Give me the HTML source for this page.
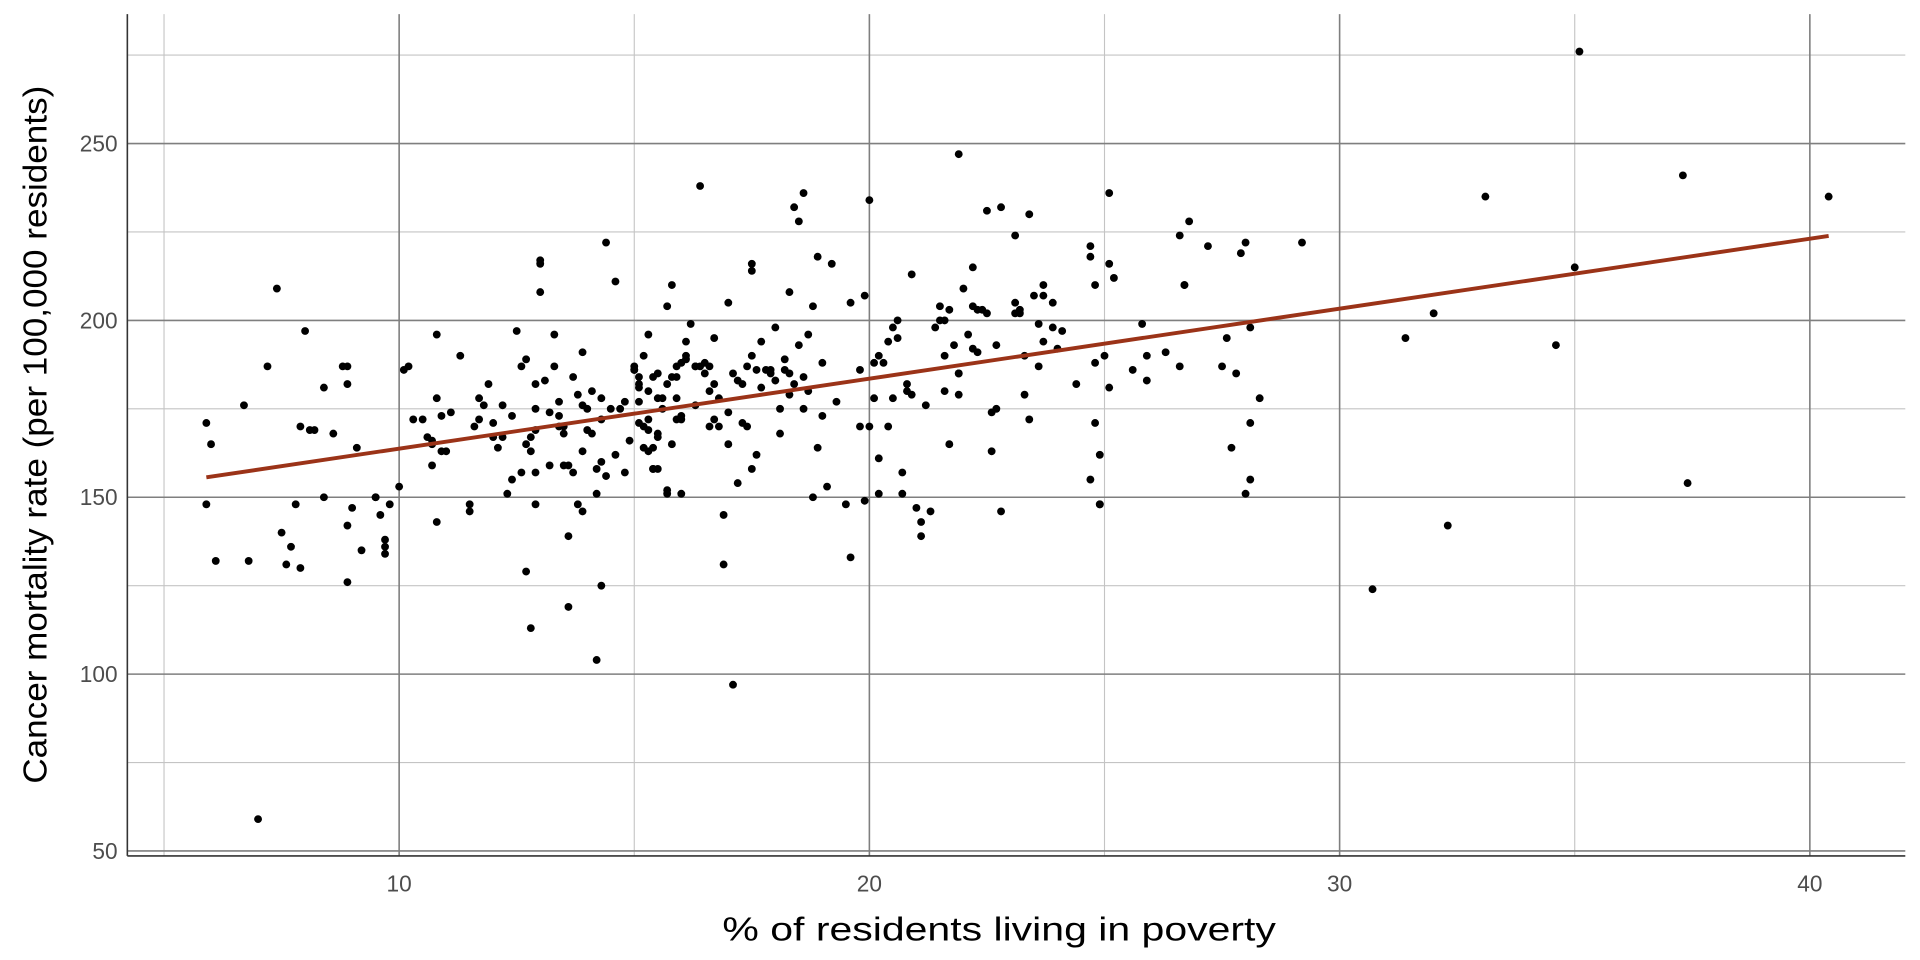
<!DOCTYPE html>
<html><head><meta charset="utf-8"><style>
html,body{margin:0;padding:0;background:#fff;}
svg{display:block;}
text{font-family:"Liberation Sans",sans-serif;}
</style></head><body>
<svg id="chart" width="1920" height="960" viewBox="0 0 1568 784" xmlns="http://www.w3.org/2000/svg">
<g id="grid"></g>
<g id="axes"></g>
<g id="points"></g>
<g id="fit"></g>
<text x="816" y="768" text-anchor="middle" font-size="27" textLength="452" lengthAdjust="spacingAndGlyphs" fill="#000">% of residents living in poverty</text>
<text transform="translate(38,355) rotate(-90)" text-anchor="middle" font-size="27" textLength="570" lengthAdjust="spacingAndGlyphs" fill="#000">Cancer mortality rate (per 100,000 residents)</text>
</svg>
<script>
const xTicks=[10,20,30,40];
const xMinor=[5,15,25,35];
const yTicks=[50,100,150,200,250];
const yMinor=[75,125,175,225,275];
const povertyPct=[5.9,6.0,5.9,6.1,6.8,6.7,7.0,7.4,7.2,7.5,7.6,7.7,7.8,7.9,7.9,8.0,8.1,8.2,8.4,8.4,8.6,8.8,8.9,8.9,9.0,8.9,8.9,9.1,9.2,9.5,9.5,9.6,9.7,9.7,9.7,9.8,10.0,10.1,10.2,10.3,10.5,10.6,10.7,10.7,10.7,10.8,10.8,10.8,10.9,10.9,11.0,11.1,11.3,11.5,11.5,11.6,11.7,11.7,11.8,11.9,12.0,12.0,12.1,12.2,12.2,12.3,12.4,12.4,12.5,12.6,12.7,12.6,12.7,12.7,12.8,12.8,12.8,12.9,12.9,12.9,12.9,12.9,13.0,13.0,13.0,13.1,13.2,13.2,13.3,13.3,13.4,13.4,13.4,13.5,13.5,13.5,13.6,13.6,13.6,13.7,13.7,13.8,13.8,13.9,13.9,13.9,13.9,14.0,14.0,14.1,14.1,14.2,14.2,14.2,14.3,14.3,14.3,14.3,14.4,14.4,14.5,14.6,14.6,14.7,14.8,14.8,14.9,15.0,15.0,15.0,15.1,15.1,15.1,15.1,15.1,15.2,15.2,15.2,15.3,15.3,15.3,15.3,15.3,15.4,15.4,15.4,15.4,15.5,15.5,15.5,15.5,15.5,15.6,15.6,15.7,15.7,15.7,15.7,15.8,15.8,15.8,15.9,15.9,15.9,15.9,16.0,16.0,16.0,16.0,16.1,16.1,16.1,16.2,16.3,16.3,16.3,16.4,16.4,16.5,16.5,16.6,16.6,16.6,16.7,16.7,16.7,16.8,16.8,16.9,16.9,17.0,17.0,17.0,17.1,17.1,17.2,17.2,17.3,17.3,17.4,17.4,17.5,17.5,17.5,17.5,17.6,17.6,17.7,17.7,17.8,17.9,17.9,18.0,18.0,18.1,18.1,18.2,18.2,18.3,18.3,18.3,18.4,18.4,18.5,18.5,18.6,18.6,18.6,18.7,18.7,18.8,18.8,18.9,18.9,19.0,19.0,19.1,19.2,19.3,19.5,19.6,19.6,19.8,19.8,19.9,19.9,20.0,20.0,20.1,20.1,20.2,20.2,20.2,20.3,20.4,20.4,20.5,20.5,20.6,20.6,20.7,20.7,20.8,20.8,20.9,20.9,21.0,21.1,21.1,21.2,21.3,21.4,21.5,21.5,21.6,21.6,21.6,21.7,21.7,21.8,21.9,21.9,21.9,21.9,22.0,22.1,22.2,22.2,22.2,22.3,22.3,22.4,22.5,22.5,22.6,22.6,22.7,22.7,22.8,22.8,23.1,23.1,23.1,23.2,23.2,23.3,23.3,23.4,23.4,23.5,23.6,23.6,23.7,23.7,23.7,23.9,23.9,24.0,24.1,24.4,24.7,24.7,24.7,24.8,24.8,24.8,24.9,24.9,24.9,25.0,25.1,25.1,25.1,25.2,25.6,25.8,25.9,25.9,26.3,26.6,26.6,26.7,26.7,26.8,27.2,27.5,27.6,27.7,27.8,27.9,28.0,28.0,28.1,28.1,28.1,28.3,29.2,30.7,31.4,32.0,32.3,33.1,34.6,35.0,35.1,37.3,37.4,40.4];
const mortality=[171,165,148,132,132,176,59,209,187,140,131,136,148,130,170,197,169,169,150,181,168,187,182,187,147,142,126,164,135,150,150,145,138,136,134,148,153,186,187,172,172,167,166,165,159,196,178,143,163,173,163,174,190,146,148,170,172,178,176,182,171,167,164,176,167,151,155,173,197,157,189,187,165,129,113,167,163,169,175,157,182,148,216,217,208,183,159,174,196,187,177,173,170,168,159,170,139,119,159,157,184,179,148,146,176,163,191,175,169,168,180,151,158,104,178,125,172,160,156,222,175,162,211,175,177,157,166,187,186,186,184,181,182,177,171,190,170,164,163,172,196,180,169,164,158,158,184,168,158,167,178,185,178,175,151,152,182,204,165,184,210,187,178,172,184,172,188,151,173,189,190,194,199,187,187,176,187,238,188,185,187,180,170,182,172,195,170,178,131,145,205,174,165,97,185,154,183,171,182,170,187,190,216,158,214,162,186,194,181,186,185,186,198,183,168,175,189,186,208,179,185,182,232,193,228,236,175,184,180,196,204,150,164,218,173,188,153,216,177,148,133,205,186,170,149,207,170,234,188,178,151,161,190,188,194,170,178,198,195,200,151,157,182,180,179,213,147,143,139,176,146,198,204,200,180,200,190,203,165,193,185,185,247,179,209,196,215,192,204,203,191,203,231,202,174,163,193,175,146,232,205,202,224,202,203,190,179,172,230,207,187,199,194,207,210,205,198,192,197,182,155,221,218,188,210,171,162,148,148,190,181,216,236,212,186,199,183,190,191,187,224,210,210,228,221,187,195,164,185,219,151,222,155,198,171,178,222,124,195,202,142,235,193,215,276,241,154,235,221];

const NS='http://www.w3.org/2000/svg';
const L=104,R=1556,T=11.5,B=699;
const X0=4.22,X1=42.03,Y0=48.6,Y1=286.6;
function sx(v){return L+(v-X0)/(X1-X0)*(R-L);}
function sy(v){return B-(v-Y0)/(Y1-Y0)*(B-T);}
function mk(tag,attrs,parent){const e=document.createElementNS(NS,tag);for(const k in attrs)e.setAttribute(k,attrs[k]);parent.appendChild(e);return e;}
const grid=document.getElementById('grid'),axes=document.getElementById('axes'),pts=document.getElementById('points'),fit=document.getElementById('fit');

xMinor.forEach(v=>{const e=mk('line',{x1:sx(v),x2:sx(v),y1:T,y2:B,stroke:'#c4c4c4','stroke-width':0.9},grid);

});
yMinor.forEach(v=>{const e=mk('line',{x1:L,x2:R,y1:sy(v),y2:sy(v),stroke:'#c4c4c4','stroke-width':0.9},grid);

});
xTicks.forEach(v=>{const e=mk('line',{x1:sx(v),x2:sx(v),y1:T,y2:B,stroke:'#7f7f7f','stroke-width':1.3},grid);


const t=mk('text',{x:sx(v),y:728,'text-anchor':'middle','font-size':18.5,fill:'#4d4d4d'},axes);t.textContent=v;

});
yTicks.forEach(v=>{const e=mk('line',{x1:L,x2:R,y1:sy(v),y2:sy(v),stroke:'#7f7f7f','stroke-width':1.3},grid);


const t=mk('text',{x:96,y:sy(v)+6.5,'text-anchor':'end','font-size':18.5,fill:'#4d4d4d'},axes);t.textContent=v;

});
const ax=mk('line',{x1:L,x2:R,y1:B,y2:B,stroke:'#333','stroke-width':1.3},axes);


const ay=mk('line',{x1:L,x2:L,y1:T,y2:B,stroke:'#333','stroke-width':1.3},axes);



const n=Math.min(povertyPct.length,mortality.length);
for(let i=0;i<n;i++){const c=mk('circle',{cx:sx(povertyPct[i]),cy:sy(mortality[i]),r:3.2,fill:'#000'},pts);

}

let mx=0,my=0;for(let i=0;i<n;i++){mx+=povertyPct[i];my+=mortality[i];}mx/=n;my/=n;
let sxy=0,sxx=0;for(let i=0;i<n;i++){sxy+=(povertyPct[i]-mx)*(mortality[i]-my);sxx+=(povertyPct[i]-mx)**2;}
const b=sxy/sxx,a=my-b*mx;
const xmin=Math.min(...povertyPct),xmax=Math.max(...povertyPct);
const ln=mk('line',{x1:sx(xmin),y1:sy(a+b*xmin),x2:sx(xmax),y2:sy(a+b*xmax),stroke:'#9b3318','stroke-width':3.2},fit);


</script>
</body></html>
